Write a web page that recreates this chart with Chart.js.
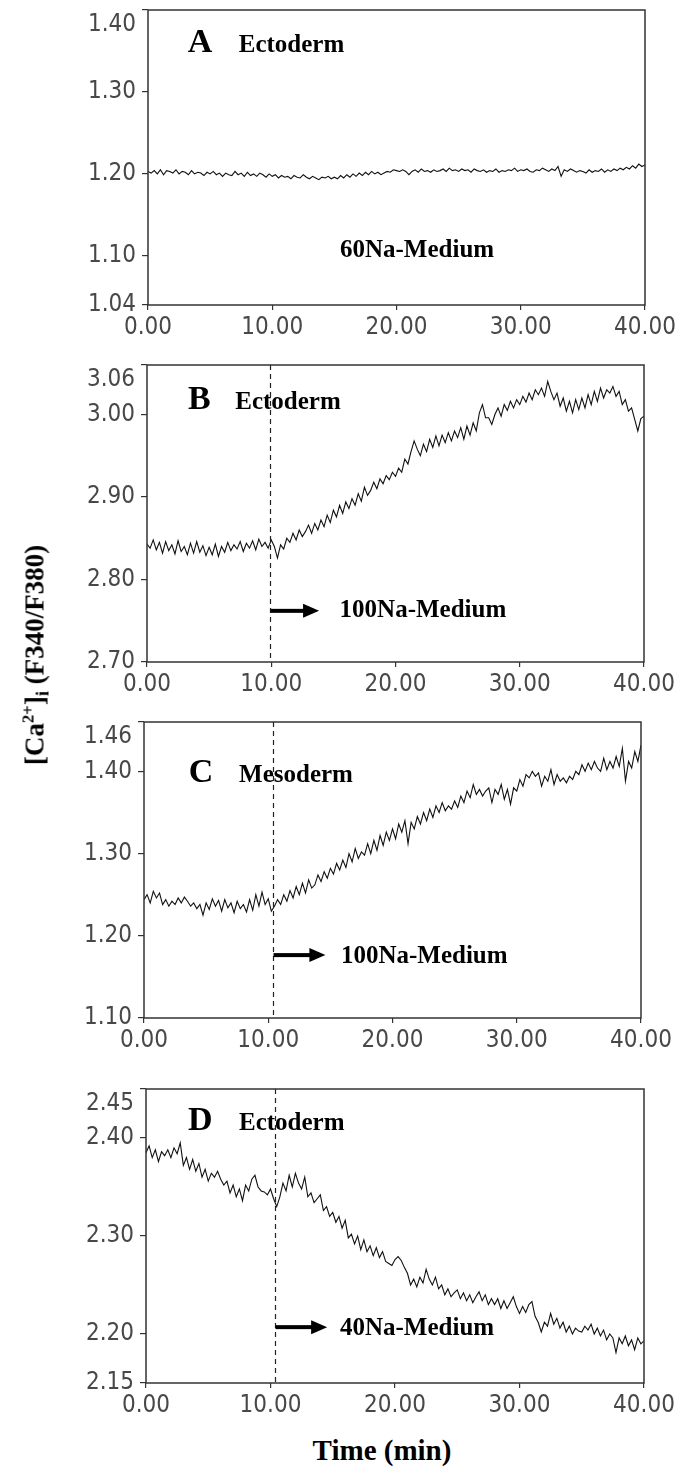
<!DOCTYPE html>
<html>
<head>
<meta charset="utf-8">
<script src="https://cdn.jsdelivr.net/npm/chart.js@4.4.1/dist/chart.umd.min.js"></script>
<style>
  body { margin: 0; background: #fff; }
  #wrap { position: relative; width: 675px; height: 1468px; overflow: hidden; }
  canvas.panel { position: absolute; left: 0; }
  .ytitle {
    position: absolute; left: 35px; top: 655px;
    transform: translate(-50%, -50%) rotate(-90deg);
    white-space: nowrap;
    font: bold 27px 'Liberation Serif', 'Times New Roman', serif;
    color: #000;
  }
  .ytitle sup { font-size: 0.62em; vertical-align: 0.6em; line-height: 0; }
  .ytitle sub { font-size: 0.68em; vertical-align: -0.25em; line-height: 0; }
  .xtitle {
    position: absolute; left: 382px; top: 1450px;
    transform: translate(-50%, -50%);
    white-space: nowrap;
    font: bold 29px 'Liberation Serif', 'Times New Roman', serif;
    color: #000;
  }
</style>
</head>
<body>
<div id="wrap">
  <canvas id="chartA" class="panel"></canvas>
  <canvas id="chartB" class="panel"></canvas>
  <canvas id="chartC" class="panel"></canvas>
  <canvas id="chartD" class="panel"></canvas>
  <div class="ytitle">[Ca<sup>2+</sup>]<sub>i</sub> (F340/F380)</div>
  <div class="xtitle">Time (min)</div>
</div>
<script>
// sampling interval of the traces (min)
const sampleStep = 0.25;
const timeTicks = [0, 10, 20, 30, 40];

// y tick values of each panel (first = axis min, last = axis max)
const ticksA = [1.04, 1.10, 1.20, 1.30, 1.40];
const ticksB = [2.70, 2.80, 2.90, 3.00, 3.06];
const ticksC = [1.10, 1.20, 1.30, 1.40, 1.46];
const ticksD = [2.15, 2.20, 2.30, 2.40, 2.45];

// time of medium exchange (min)
const switchB = 9.9;
const switchC = 10.4;
const switchD = 10.35;

// F340/F380 ratio, one value every 0.25 min, 0 - 40 min
const ratioA = [
  1.203,1.201,1.204,1.200,1.205,1.199,1.204,1.203,1.201,1.205,1.200,1.203,1.202,1.199,1.204,1.200,1.202,1.201,1.198,1.202,
  1.200,1.203,1.199,1.201,1.197,1.201,1.199,1.198,1.203,1.199,1.201,1.197,1.202,1.198,1.200,1.197,1.201,1.199,1.196,1.200,
  1.197,1.199,1.195,1.198,1.196,1.197,1.194,1.198,1.196,1.195,1.199,1.196,1.194,1.197,1.195,1.193,1.196,1.195,1.197,1.194,
  1.196,1.194,1.198,1.195,1.199,1.196,1.200,1.197,1.201,1.198,1.202,1.199,1.203,1.200,1.202,1.199,1.201,1.203,1.202,1.205,
  1.204,1.203,1.205,1.203,1.199,1.203,1.205,1.202,1.206,1.203,1.204,1.202,1.205,1.203,1.204,1.206,1.203,1.207,1.204,1.205,
  1.203,1.206,1.204,1.205,1.202,1.206,1.204,1.203,1.205,1.202,1.204,1.203,1.206,1.202,1.204,1.203,1.205,1.204,1.207,1.203,
  1.205,1.204,1.206,1.203,1.202,1.205,1.204,1.207,1.205,1.203,1.206,1.204,1.209,1.197,1.205,1.203,1.206,1.204,1.202,1.204,
  1.203,1.201,1.205,1.202,1.204,1.203,1.206,1.202,1.205,1.203,1.206,1.204,1.207,1.205,1.208,1.206,1.210,1.207,1.212,1.209,
  1.211
];
const ratioB = [
  2.843,2.838,2.848,2.836,2.845,2.832,2.846,2.835,2.842,2.831,2.847,2.834,2.840,2.830,2.844,2.832,2.846,2.833,2.841,2.829,
  2.839,2.830,2.843,2.828,2.840,2.833,2.845,2.835,2.842,2.837,2.846,2.834,2.844,2.838,2.847,2.836,2.849,2.840,2.845,2.838,
  2.848,2.840,2.826,2.842,2.837,2.850,2.845,2.856,2.848,2.860,2.852,2.858,2.866,2.856,2.868,2.860,2.872,2.864,2.878,2.869,
  2.884,2.876,2.890,2.880,2.894,2.886,2.898,2.890,2.904,2.895,2.912,2.902,2.908,2.918,2.910,2.922,2.916,2.926,2.921,2.930,
  2.925,2.935,2.930,2.946,2.940,2.955,2.968,2.958,2.950,2.964,2.955,2.970,2.960,2.974,2.962,2.975,2.966,2.978,2.968,2.980,
  2.972,2.984,2.970,2.986,2.975,2.990,2.980,3.002,3.012,2.996,2.996,2.988,3.000,3.008,2.998,3.012,3.005,3.016,3.008,3.018,
  3.012,3.022,3.015,3.026,3.018,3.030,3.024,3.032,3.022,3.040,3.028,3.018,3.026,3.010,3.020,3.004,3.016,3.002,3.018,3.006,
  3.020,3.008,3.024,3.012,3.028,3.016,3.032,3.020,3.030,3.026,3.034,3.022,3.028,3.012,3.018,3.004,3.008,2.994,2.980,2.995,
  2.998
];
const ratioC = [
  1.244,1.250,1.240,1.254,1.246,1.252,1.238,1.244,1.236,1.242,1.238,1.246,1.240,1.247,1.242,1.236,1.240,1.233,1.238,1.225,
  1.240,1.232,1.245,1.236,1.243,1.230,1.244,1.234,1.240,1.228,1.242,1.233,1.238,1.229,1.244,1.231,1.250,1.236,1.253,1.238,
  1.245,1.230,1.236,1.244,1.238,1.250,1.242,1.255,1.246,1.260,1.250,1.264,1.252,1.268,1.258,1.262,1.274,1.266,1.278,1.270,
  1.282,1.275,1.288,1.280,1.292,1.283,1.300,1.290,1.306,1.294,1.302,1.298,1.312,1.300,1.316,1.304,1.322,1.310,1.326,1.316,
  1.330,1.318,1.336,1.326,1.340,1.312,1.338,1.330,1.345,1.336,1.350,1.340,1.354,1.344,1.358,1.350,1.362,1.352,1.358,1.354,
  1.364,1.356,1.370,1.362,1.376,1.368,1.384,1.372,1.378,1.370,1.376,1.380,1.362,1.378,1.372,1.384,1.366,1.378,1.360,1.380,
  1.376,1.390,1.382,1.396,1.392,1.400,1.394,1.398,1.382,1.394,1.388,1.402,1.384,1.396,1.388,1.392,1.386,1.394,1.390,1.400,
  1.396,1.408,1.400,1.410,1.402,1.412,1.404,1.400,1.416,1.402,1.412,1.404,1.418,1.406,1.428,1.388,1.412,1.404,1.424,1.412,
  1.432
];
const ratioD = [
  2.385,2.392,2.380,2.388,2.376,2.386,2.382,2.388,2.380,2.390,2.384,2.395,2.372,2.380,2.368,2.378,2.366,2.374,2.360,2.368,
  2.356,2.364,2.360,2.366,2.358,2.352,2.356,2.344,2.352,2.340,2.348,2.336,2.352,2.346,2.358,2.362,2.350,2.346,2.345,2.342,
  2.348,2.338,2.330,2.340,2.354,2.346,2.362,2.350,2.364,2.354,2.348,2.360,2.340,2.344,2.334,2.338,2.342,2.326,2.330,2.320,
  2.324,2.314,2.320,2.308,2.316,2.298,2.302,2.292,2.300,2.286,2.296,2.284,2.290,2.280,2.288,2.278,2.284,2.274,2.272,2.270,
  2.276,2.279,2.275,2.268,2.262,2.250,2.256,2.248,2.258,2.252,2.266,2.256,2.250,2.258,2.246,2.250,2.240,2.246,2.238,2.242,
  2.245,2.236,2.242,2.234,2.240,2.232,2.238,2.243,2.234,2.240,2.230,2.236,2.230,2.236,2.226,2.234,2.226,2.232,2.238,2.228,
  2.221,2.228,2.222,2.230,2.233,2.218,2.212,2.202,2.212,2.208,2.221,2.210,2.216,2.206,2.212,2.202,2.208,2.200,2.206,2.203,
  2.202,2.208,2.204,2.210,2.200,2.206,2.198,2.204,2.194,2.200,2.196,2.181,2.196,2.190,2.198,2.188,2.194,2.184,2.196,2.190,
  2.193
];

const tickFont = { family: "'Liberation Sans Narrow', 'DejaVu Sans Condensed', sans-serif", size: 24, lineHeight: 1.25 };
const tickColor = '#484848';
const serif = "'Liberation Serif', 'Times New Roman', serif";

// page layout: canvas top, plot box left/right and height (px)
const panels = [
  { id: 'chartA', top: 0, left: 148, right: 645, plotH: 295, ticks: ticksA, values: ratioA,
    letter: 'A', tissue: 'Ectoderm', medium: '60Na-Medium', switchAt: null,
    letterAt: [3.2, 1.349], tissueAt: [7.3, 1.349], mediumAt: [15.45, 1.0986] },
  { id: 'chartB', top: 355, left: 147, right: 644, plotH: 297, ticks: ticksB, values: ratioB,
    letter: 'B', tissue: 'Ectoderm', medium: '100Na-Medium', switchAt: switchB, arrowTo: 13.85, arrowY: 2.762,
    letterAt: [3.3, 3.0067], tissueAt: [7.1, 3.0067], mediumAt: [15.5, 2.7545] },
  { id: 'chartC', top: 712, left: 144, right: 641, plotH: 296, ticks: ticksC, values: ratioC,
    letter: 'C', tissue: 'Mesoderm', medium: '100Na-Medium', switchAt: switchC, arrowTo: 14.6, arrowY: 1.1765,
    letterAt: [3.6, 1.387], tissueAt: [7.65, 1.387], mediumAt: [15.85, 1.1668] },
  { id: 'chartD', top: 1079, left: 146, right: 644, plotH: 294, ticks: ticksD, values: ratioD,
    letter: 'D', tissue: 'Ectoderm', medium: '40Na-Medium', switchAt: switchD, arrowTo: 14.55, arrowY: 2.207,
    letterAt: [3.37, 2.408], tissueAt: [7.47, 2.408], mediumAt: [15.58, 2.199] }
];

// frame, dashed exchange line, arrow and panel captions
function panelDecor(p) {
  return {
    id: 'decor',
    afterDatasetsDraw(chart) {
      const { ctx, chartArea: a, scales: { x, y } } = chart;
      ctx.save();
      ctx.strokeStyle = '#333';
      ctx.lineWidth = 1.5;
      ctx.strokeRect(a.left, a.top, a.right - a.left, a.bottom - a.top);

      if (p.switchAt != null) {
        const sx = Math.round(x.getPixelForValue(p.switchAt)) + 0.5;
        ctx.setLineDash([5, 4]);
        ctx.lineWidth = 1.2;
        ctx.strokeStyle = '#222';
        ctx.beginPath();
        ctx.moveTo(sx, a.top);
        ctx.lineTo(sx, a.bottom);
        ctx.stroke();
        ctx.setLineDash([]);

        const ay = y.getPixelForValue(p.arrowY);
        const ax = x.getPixelForValue(p.arrowTo);
        ctx.fillStyle = '#000';
        ctx.fillRect(sx, ay - 2, ax - 15 - sx, 4);
        ctx.beginPath();
        ctx.moveTo(ax - 16, ay - 7);
        ctx.lineTo(ax, ay);
        ctx.lineTo(ax - 16, ay + 7);
        ctx.closePath();
        ctx.fill();
      }

      ctx.fillStyle = '#000';
      ctx.textAlign = 'left';
      ctx.textBaseline = 'alphabetic';
      ctx.font = 'bold 34px ' + serif;
      ctx.fillText(p.letter, x.getPixelForValue(p.letterAt[0]), y.getPixelForValue(p.letterAt[1]));
      ctx.font = 'bold 25px ' + serif;
      ctx.fillText(p.tissue, x.getPixelForValue(p.tissueAt[0]), y.getPixelForValue(p.tissueAt[1]));
      ctx.fillText(p.medium, x.getPixelForValue(p.mediumAt[0]), y.getPixelForValue(p.mediumAt[1]));
      ctx.restore();
    }
  };
}

panels.forEach(p => {
  const canvas = document.getElementById(p.id);
  canvas.width = 675;
  canvas.height = 10 + p.plotH + 40;
  canvas.style.top = p.top + 'px';
  const yMin = p.ticks[0];
  const yMax = p.ticks[p.ticks.length - 1];

  new Chart(canvas, {
    type: 'line',
    data: {
      datasets: [{
        data: p.values.map((v, i) => ({ x: i * sampleStep, y: v })),
        borderColor: '#111',
        borderWidth: 1.1,
        pointRadius: 0,
        tension: 0,
        fill: false
      }]
    },
    options: {
      responsive: false,
      animation: false,
      events: [],
      layout: { autoPadding: false, padding: { left: 0, top: 10, right: 675 - p.right, bottom: 0 } },
      plugins: { legend: { display: false }, tooltip: { enabled: false } },
      scales: {
        x: {
          type: 'linear', min: 0, max: 40,
          afterBuildTicks: s => { s.ticks = timeTicks.map(v => ({ value: v })); },
          afterFit: s => { s.height = 40; s.paddingLeft = 0; s.paddingRight = 0; },
          ticks: { callback: v => v.toFixed(2), font: tickFont, color: tickColor, padding: 3, maxRotation: 0, autoSkip: false },
          grid: { drawOnChartArea: false, drawTicks: true, tickLength: 5, color: '#333', lineWidth: 1.2 },
          border: { display: false }
        },
        y: {
          type: 'linear', min: yMin, max: yMax,
          afterBuildTicks: s => { s.ticks = p.ticks.map(v => ({ value: v })); },
          afterFit: s => { s.width = p.left; s.paddingTop = 0; s.paddingBottom = 0; },
          ticks: {
            // top label sits a little below the axis end, as in the original
            callback: v => Math.abs(v - yMax) < 1e-9 ? ['', v.toFixed(2)] : v.toFixed(2),
            font: tickFont, color: tickColor, padding: 6, autoSkip: false
          },
          grid: { drawOnChartArea: false, drawTicks: true, tickLength: 6, color: '#333', lineWidth: 1.2 },
          border: { display: false }
        }
      }
    },
    plugins: [panelDecor(p)]
  });
});
</script>
</body>
</html>
